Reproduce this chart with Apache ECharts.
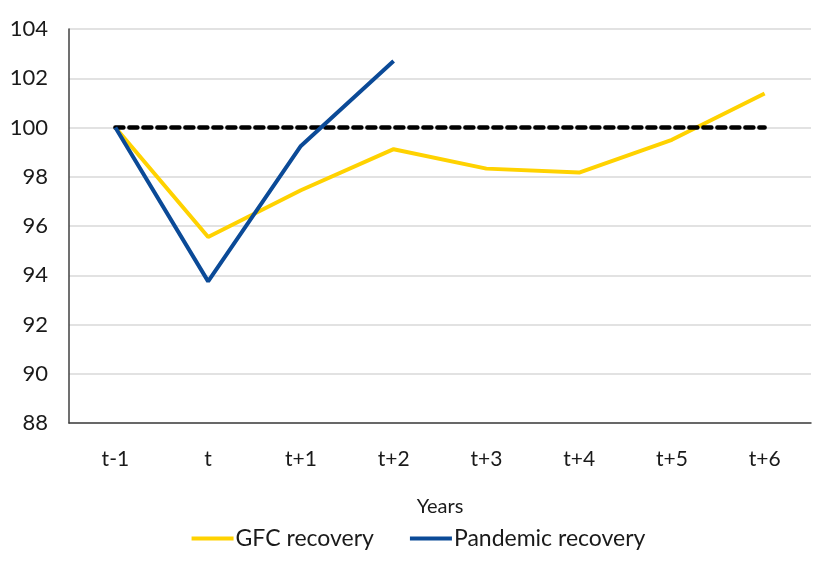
<!DOCTYPE html>
<html>
<head>
<meta charset="utf-8">
<script src="https://cdn.jsdelivr.net/npm/echarts@6/dist/echarts.min.js"></script>
<style>
html,body{margin:0;padding:0;background:#fff;}
#line{width:837px;height:579px;}
</style>
</head>
<body>
<div id="line"></div>
<script>
// years around the recession start
const years = ['t-1', 't', 't+1', 't+2', 't+3', 't+4', 't+5', 't+6']
const gfcRecovery = [100, 95.55, 97.45, 99.12, 98.33, 98.17, 99.5, 101.38]
const pandemicRecovery = [100, 93.75, 99.25, 102.7]
const baseline = [100, 100, 100, 100, 100, 100, 100, 100]

const font = 'Lato, "Open Sans", sans-serif'

const option = {
  animation: false,
  textStyle: { fontFamily: font },
  grid: { left: 69, right: 26, top: 29, bottom: 156 },
  legend: {
    bottom: 24,
    left: 'center',
    itemGap: 36,
    itemWidth: 42,
    itemHeight: 4,
    icon: 'rect',
    textStyle: { fontSize: 23, color: '#1a1a1a', fontFamily: font, padding: [0, 0, 0, -3] },
    data: ['GFC recovery', 'Pandemic recovery']
  },
  xAxis: {
    type: 'category',
    data: years,
    name: 'Years',
    nameLocation: 'middle',
    nameGap: 74,
    nameTextStyle: { fontSize: 20, color: '#1a1a1a' },
    axisLine: { lineStyle: { color: '#404040', width: 1.5 } },
    axisTick: { show: false },
    axisLabel: { fontSize: 21, color: '#1a1a1a', margin: 26 }
  },
  yAxis: {
    type: 'value',
    min: 88,
    max: 104,
    interval: 2,
    axisLine: { show: true, lineStyle: { color: '#404040', width: 1.5 } },
    axisTick: { show: false },
    axisLabel: { fontSize: 22, color: '#1a1a1a', margin: 21 },
    splitLine: { lineStyle: { color: '#d9d9d9', width: 1.5 } }
  },
  series: [
    {
      name: 'Baseline',
      type: 'line',
      data: baseline,
      symbol: 'none',
      lineStyle: { color: '#000', width: 4.5, type: [8, 6], cap: 'round' },
      z: 3
    },
    {
      name: 'GFC recovery',
      type: 'line',
      data: gfcRecovery,
      symbol: 'none',
      color: '#FFD200',
      lineStyle: { color: '#FFD200', width: 4 },
      z: 2
    },
    {
      name: 'Pandemic recovery',
      type: 'line',
      data: pandemicRecovery,
      symbol: 'none',
      color: '#0B4A97',
      lineStyle: { color: '#0B4A97', width: 4 },
      z: 4
    }
  ]
}

const chart = echarts.init(document.getElementById('line'))
chart.setOption(option)
</script>
</body>
</html>
